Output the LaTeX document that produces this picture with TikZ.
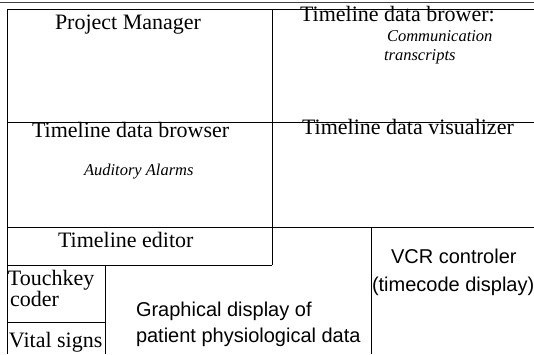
\documentclass[tikz,border=0pt]{standalone}
\usepackage{fontspec}
\setmainfont{Liberation Serif}
\setsansfont{Liberation Sans}
\usetikzlibrary{positioning}

\begin{document}
\begin{tikzpicture}[x=1pt, y=-1pt,
    every node/.style={inner sep=0pt, outer sep=0pt},
    title/.style={anchor=base west, font=\fontsize{22}{24}\selectfont},
    note/.style={anchor=base west, font=\fontsize{16.5}{18}\selectfont\itshape},
    sans/.style={anchor=base west, font=\sffamily\fontsize{20}{22}\selectfont},
    frame/.style={line width=0.9pt},
]

\useasboundingbox (0,0) rectangle (534,354);

% panel lines
\draw[line width=1.6pt, black!75] (0,2.5) -- (534,2.5);
\draw[frame] (534,9) -- (7,9) -- (7,354);
\draw[frame] (272,9) -- (272,265);
\draw[frame] (7,122) -- (534,122);
\draw[frame] (7,227) -- (534,227);
\draw[frame] (7,265) -- (272,265);
\draw[frame] (105,265) -- (105,354);
\draw[frame] (7,322) -- (105,322);
\draw[frame] (371,227) -- (371,354);

\node[title] (pm) at (55,29) {Project Manager};
\node[title] (browerA) at (300,21) {Timeline data brower:};
\node[note] (comm) at (387,41) {Communication};
\node[note] (transcr) at (384,60) {transcripts};

\node[title] (browserB) at (32,137) {Timeline data browser};
\node[note] (alarms) at (84,175) {Auditory Alarms};
\node[title] (visual) at (302,134) {Timeline data visualizer};

\node[title] (editor) at (58,247) {Timeline editor};
\node[title, anchor=north west, align=left, font=\fontsize{22}{17}\selectfont]
  (touch) at (8,270) {Touchkey\\\hspace{2pt}coder};
\node[title] (vital) at (9,347) {Vital signs};

\node[sans] (graphA) at (136,316) {Graphical display of};
\node[sans] (graphB) at (136,342) {patient physiological data};
\node[sans] (vcr) at (391,263) {VCR controler};
\node[sans] (timecode) at (372,291) {(timecode display)};

\end{tikzpicture}
\end{document}
